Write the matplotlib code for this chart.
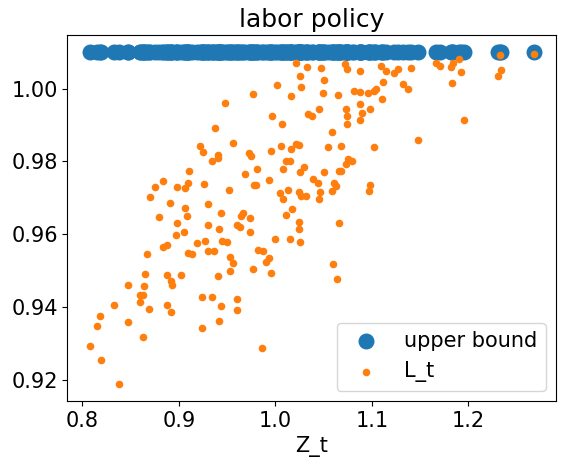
import matplotlib
matplotlib.use("Agg")
import matplotlib.pyplot as plt

Z = [1.0208,1.0014,.9769,1.0157,.9473,.9963,1.0065,.9371,.9218,.9248,.9555,.9401,.9401,.9340,.9728,.9748,.9952,1.0054,1.0157,1.0214,1.0106,1.0146,1.0075,.9810,.9687,.9105,.9095,.9065,.8980,.8830,.8748,.8697,.9259,.9514,.9776,.9796,.9932,1.0044,1.0082,1.0129,.8912,.9299,.9065,.9085,.8793,.8983,.9054,.8973,.9435,.9299,.9411,.9646,.9667,.9738,.9599,.9636,.9738,1.0106,1.0167,1.0146,.9993,.9269,.9442,.9493,.9187,.8881,.8830,.9095,.9136,.9299,.9361,.9823,.9871,.9932,.9901,.9534,.9565,.8667,.8646,.8871,.8922,.8932,.9024,.9401,.9534,.9769,.9952,.8473,.8636,.8595,.8626,.8595,.8330,.8687,.8881,.8922,.9238,.9340,.9432,.9605,.9605,.8177,.8146,.8473,.8626,.9238,.9412,.8075,.8187,.8381,.9861,
     1.0718,1.0738,1.0327,1.0469,1.0881,1.1095,1.1146,1.0259,1.0269,1.0503,1.0493,1.0646,1.0810,1.0871,1.0963,1.1024,1.1044,1.1116,1.1105,1.1228,1.1269,1.1401,1.1320,1.1371,1.1667,1.1708,1.1820,1.1840,1.1901,1.1922,1.1830,1.2340,1.2309,1.2330,1.2677,1.0452,1.0340,1.0381,1.0728,1.0738,1.0738,1.0871,1.0901,1.0881,1.0983,1.1952,1.0585,1.0544,1.0677,1.1024,1.1473,1.0241,1.0748,1.0789,1.0728,1.0299,1.0259,1.0503,1.0656,1.0677,1.0391,1.0442,1.0605,1.0626,1.0585,1.0983,1.0973,1.0241,1.0269,1.0320,1.0463,1.0452,1.0241,1.0241,1.0656,1.0259,1.0595,1.0636]
L = [1.0069,1.0011,.9984,.9980,.9959,.9924,.9904,.9891,.9842,.9826,.9850,.9818,.9809,.9802,.9823,.9814,.9829,.9842,.9835,.9849,.9802,.9802,.9778,.9778,.9765,.9775,.9742,.9726,.9729,.9745,.9731,.9702,.9737,.9721,.9734,.9734,.9748,.9714,.9697,.9722,.9686,.9683,.9672,.9650,.9648,.9632,.9607,.9599,.9658,.9626,.9615,.9650,.9658,.9645,.9626,.9620,.9607,.9653,.9669,.9588,.9588,.9583,.9583,.9580,.9575,.9572,.9564,.9550,.9545,.9553,.9553,.9558,.9553,.9534,.9523,.9537,.9521,.9545,.9491,.9488,.9472,.9461,.9488,.9486,.9499,.9504,.9494,.9461,.9459,.9434,.9434,.9415,.9405,.9396,.9405,.9388,.9429,.9429,.9402,.9423,.9391,.9375,.9348,.9359,.9318,.9342,.9361,.9294,.9256,.9188,.9288,
     1.0068,1.0053,1.0058,1.0056,1.0048,1.0062,1.0048,1.0034,1.0004,1.0023,.9988,.9983,.9994,.9991,.9988,.9994,.9999,1.0018,.9972,1.0042,1.0053,1.0056,1.0013,.9999,1.0069,1.0061,1.0059,1.0069,1.0080,1.0045,1.0015,1.0050,1.0034,1.0092,1.0094,.9945,.9929,.9924,.9945,.9924,.9904,.9958,.9934,.9915,.9945,.9915,.9880,.9840,.9842,.9840,.9859,.9845,.9807,.9802,.9794,.9786,.9772,.9772,.9775,.9775,.9753,.9740,.9742,.9732,.9718,.9735,.9718,.9715,.9704,.9704,.9715,.9697,.9634,.9615,.9632,.9580,.9518,.9478]
upper = [1.01] * len(Z)

fig, ax = plt.subplots(figsize=(5.72, 4.73), dpi=100)
fig.subplots_adjust(left=0.118, right=0.972, top=0.925, bottom=0.152)
ax.scatter(Z, upper, s=110, color='#1f77b4', label='upper bound')
ax.scatter(Z, L, s=20, color='#ff7f0e', label='L_t')
ax.set_title('labor policy', fontsize=18)
ax.set_xlabel('Z_t', fontsize=15)
ax.tick_params(labelsize=15)
ax.set_yticks([0.92, 0.94, 0.96, 0.98, 1.00])
ax.set_xticks([0.8, 0.9, 1.0, 1.1, 1.2])
ax.legend(loc='lower right', fontsize=15)
fig.savefig('out.png')
